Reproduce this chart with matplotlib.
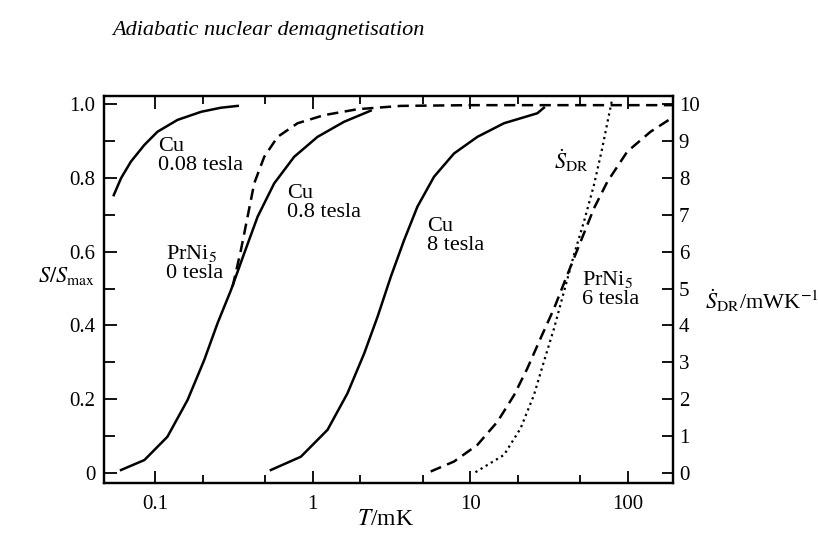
import matplotlib
matplotlib.use("Agg")
import matplotlib.pyplot as plt
from matplotlib.ticker import FixedLocator, FixedFormatter, NullFormatter

plt.rcParams["font.family"] = ["Liberation Serif", "DejaVu Serif"]
plt.rcParams["mathtext.fontset"] = "stix"

# Cu 0.08 tesla (solid)
cu008_T = [0.0543, 0.0604, 0.0698, 0.0849, 0.103, 0.138, 0.195, 0.26, 0.333]
cu008_S = [0.753, 0.799, 0.844, 0.889, 0.925, 0.957, 0.979, 0.99, 0.995]

# Cu 0.8 tesla (solid)
cu08_T = [0.0604, 0.085, 0.119, 0.16, 0.204, 0.248, 0.302, 0.366, 0.446,
          0.568, 0.761, 1.07, 1.58, 2.33]
cu08_S = [0.008, 0.035, 0.098, 0.198, 0.306, 0.406, 0.496, 0.595, 0.695,
          0.785, 0.857, 0.911, 0.952, 0.982]

# PrNi5 0 tesla (dashed)
prni0_T = [0.309, 0.349, 0.385, 0.424, 0.491, 0.597, 0.8, 1.18, 1.92, 3.62, 10, 50, 197]
prni0_S = [0.505, 0.604, 0.695, 0.785, 0.857, 0.911, 0.948, 0.970, 0.986, 0.995,
           0.997, 0.997, 0.997]

# Cu 8 tesla (solid)
cu8_T = [0.541, 0.839, 1.24, 1.66, 2.12, 2.58, 3.13, 3.8, 4.62, 5.89, 7.89,
         11.1, 16.4, 26.7, 29.4]
cu8_S = [0.008, 0.044, 0.117, 0.216, 0.324, 0.424, 0.532, 0.631, 0.722, 0.803,
         0.866, 0.911, 0.948, 0.975, 0.99]

# PrNi5 6 tesla (dashed)
prni6_T = [5.61, 7.89, 11.1, 14.9, 19.0, 23.1, 28.0, 34.1, 41.4, 50.3, 61.1,
           74.3, 99.5, 140, 197]
prni6_S = [0.004, 0.031, 0.076, 0.139, 0.211, 0.284, 0.365, 0.446, 0.537, 0.627,
           0.717, 0.789, 0.871, 0.925, 0.966]

# S_DR (dotted, right axis, mW/K)
sdr_T = [10.8, 16.4, 20.9, 25.4, 29.4, 34.1, 39.4, 45.6, 52.8, 61.1, 69, 76.1, 80]
sdr_val = [0.02, 0.49, 1.21, 2.11, 3.02, 3.92, 4.91, 5.91, 6.81, 7.8, 8.8, 9.7, 10.15]

x_major = [0.1, 1, 10, 100]
x_major_labels = ["0.1", "1", "10", "100"]
x_minor = [0.2, 0.5, 2, 5, 20, 50]
y_left = [0, 0.2, 0.4, 0.6, 0.8, 1.0]
y_left_labels = ["0", "0.2", "0.4", "0.6", "0.8", "1.0"]
y_left_minor = [0.1, 0.3, 0.5, 0.7, 0.9]
y_right = list(range(0, 11))
y_right_labels = [str(v) for v in y_right]

fig = plt.figure(figsize=(8.18, 5.42), dpi=100)
ax = fig.add_axes([0.127, 0.109, 0.696, 0.714])

lw = 1.8
dash = (4.5, 2.6)
ax.plot(cu008_T, cu008_S, color="black", lw=lw)
ax.plot(cu08_T, cu08_S, color="black", lw=lw)
ax.plot(prni0_T, prni0_S, color="black", lw=lw, dashes=dash)
ax.plot(cu8_T, cu8_S, color="black", lw=lw)
ax.plot(prni6_T, prni6_S, color="black", lw=lw, dashes=dash)

ax.set_xscale("log")
ax.set_xlim(0.047, 195)
ax.set_ylim(-0.027, 1.022)

ax.xaxis.set_major_locator(FixedLocator(x_major))
ax.xaxis.set_major_formatter(FixedFormatter(x_major_labels))
ax.xaxis.set_minor_locator(FixedLocator(x_minor))
ax.xaxis.set_minor_formatter(NullFormatter())
ax.yaxis.set_major_locator(FixedLocator(y_left))
ax.yaxis.set_major_formatter(FixedFormatter(y_left_labels))
ax.yaxis.set_minor_locator(FixedLocator(y_left_minor))

ax.tick_params(which="both", direction="in", top=True, width=1.3, labelsize=15)
ax.tick_params(axis="x", which="major", length=9, pad=9)
ax.tick_params(axis="x", which="minor", length=6)
ax.tick_params(axis="y", which="major", length=9, pad=6)
ax.tick_params(axis="y", which="minor", length=8)
for s in ax.spines.values():
    s.set_linewidth(1.6)

ax2 = ax.twinx()
ax2.plot(sdr_T, sdr_val, color="black", lw=1.6, linestyle=(0, (1, 1.7)))
ax2.set_ylim(-0.27, 10.22)
ax2.yaxis.set_major_locator(FixedLocator(y_right))
ax2.yaxis.set_major_formatter(FixedFormatter(y_right_labels))
ax2.tick_params(axis="y", direction="in", length=8, width=1.3, labelsize=15, pad=4)
for s in ax2.spines.values():
    s.set_linewidth(1.6)

fs = 16
ax.text(0.104, 0.859, "Cu\n0.08 tesla", fontsize=fs, ha="left", va="center", linespacing=0.95)
ax.text(0.684, 0.732, "Cu\n0.8 tesla", fontsize=fs, ha="left", va="center", linespacing=0.95)
ax.text(0.117, 0.569, "PrNi$_5$\n0 tesla", fontsize=fs, ha="left", va="center", linespacing=0.95)
ax.text(5.3, 0.642, "Cu\n8 tesla", fontsize=fs, ha="left", va="center", linespacing=0.95)
ax.text(51, 0.499, "PrNi$_5$\n6 tesla", fontsize=fs, ha="left", va="center", linespacing=0.95)
ax.text(33.9, 0.848, r"$\dot{S}_{\mathrm{DR}}$", fontsize=fs, ha="left", va="center")

fig.text(0.137, 1 - 30 / 542, "Adiabatic nuclear demagnetisation",
         fontsize=16, style="italic", ha="left", va="center")
fig.text(0.046, 1 - 282 / 542, r"$S/S_{\mathrm{max}}$", fontsize=16, ha="left", va="baseline")
fig.text(0.862, 0.446, r"$\dot{S}_{\mathrm{DR}}$/mWK$^{-1}$", fontsize=16, ha="left", va="center")
fig.text(0.471, 0.041, r"$T$/mK", fontsize=17, ha="center", va="center")

fig.savefig("out.png", dpi=100)
